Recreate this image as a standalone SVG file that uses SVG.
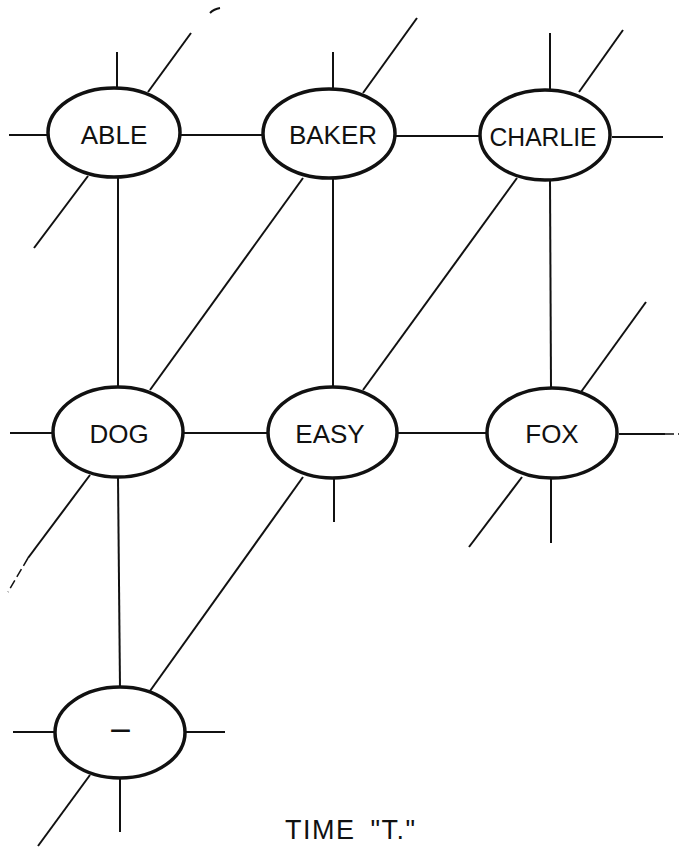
<svg xmlns="http://www.w3.org/2000/svg" width="679" height="847" viewBox="0 0 679 847">
<style>
.bg{fill:#ffffff}
.node ellipse{fill:#ffffff;stroke:#111;stroke-width:3.5}
.node text{font-family:"Liberation Sans",Arial,sans-serif;font-size:26px;fill:#111;text-anchor:middle}
#connectors line{stroke:#111;stroke-width:2;stroke-linecap:butt}
#connectors .faint{stroke-dasharray:9 4;stroke-width:1.5}
.title{font-family:"Liberation Sans",Arial,sans-serif;font-size:27px;fill:#111}
</style>
<rect class="bg" x="0" y="0" width="679" height="847"/>
<g id="connectors">
<!-- ABLE -->
<line x1="117" y1="52" x2="117" y2="88"/>
<line x1="9" y1="135" x2="48" y2="135"/>
<line x1="148" y1="92" x2="191" y2="33"/>
<line x1="88" y1="176" x2="34" y2="248"/>
<line x1="118" y1="177" x2="118" y2="387"/>
<line x1="180" y1="135" x2="263" y2="135"/>
<!-- BAKER -->
<line x1="333" y1="52" x2="333" y2="89"/>
<line x1="363" y1="93" x2="417" y2="18"/>
<line x1="303" y1="178" x2="150" y2="390"/>
<line x1="333" y1="178" x2="333" y2="387"/>
<line x1="395" y1="136" x2="480" y2="136"/>
<!-- CHARLIE -->
<line x1="550" y1="33" x2="550" y2="90"/>
<line x1="579" y1="92" x2="623" y2="30"/>
<line x1="612" y1="137" x2="663" y2="137"/>
<line x1="517" y1="178" x2="363" y2="390"/>
<line x1="550" y1="180" x2="551" y2="388"/>
<!-- DOG -->
<line x1="10" y1="433" x2="53" y2="433"/>
<line x1="183" y1="433" x2="268" y2="433"/>
<line x1="90" y1="475" x2="28" y2="558"/>
<line class="faint" x1="28" y1="558" x2="8" y2="592"/>
<line x1="118" y1="477" x2="120" y2="688"/>
<!-- EASY -->
<line x1="334" y1="477" x2="334" y2="522"/>
<line x1="397" y1="433" x2="487" y2="433"/>
<line x1="303" y1="477" x2="150" y2="691"/>
<!-- FOX -->
<line x1="581" y1="392" x2="646" y2="302"/>
<line x1="619" y1="434" x2="665" y2="434"/>
<line class="faint" x1="665" y1="434" x2="679" y2="434"/>
<line x1="522" y1="477" x2="469" y2="547"/>
<line x1="551" y1="478" x2="551" y2="543"/>
<!-- bottom node -->
<line x1="13" y1="732" x2="54" y2="732"/>
<line x1="186" y1="732" x2="225" y2="732"/>
<line x1="120" y1="778" x2="120" y2="832"/>
<line x1="90" y1="775" x2="38" y2="846"/>
</g>
<path d="M210 13 Q214 9 220 8" fill="none" stroke="#111" stroke-width="2"/>
<g id="node-able" class="node">
<ellipse cx="114" cy="132.5" rx="66" ry="44.5"/>
<text x="114" y="144">ABLE</text>
</g>
<g id="node-baker" class="node">
<ellipse cx="329" cy="133.5" rx="66" ry="44.5"/>
<text x="333" y="144">BAKER</text>
</g>
<g id="node-charlie" class="node">
<ellipse cx="545" cy="135" rx="65" ry="45"/>
<text x="543" y="146" textLength="107" lengthAdjust="spacingAndGlyphs">CHARLIE</text>
</g>
<g id="node-dog" class="node">
<ellipse cx="118" cy="432" rx="65" ry="45"/>
<text x="119" y="443">DOG</text>
</g>
<g id="node-easy" class="node">
<ellipse cx="332.5" cy="432.5" rx="64.5" ry="45.5"/>
<text x="330" y="443">EASY</text>
</g>
<g id="node-fox" class="node">
<ellipse cx="552" cy="433" rx="65" ry="45"/>
<text x="552" y="443">FOX</text>
</g>
<g id="node-blank" class="node">
<ellipse cx="120" cy="732.5" rx="65" ry="45.5"/>
<text x="120.5" y="738" font-size="34" font-weight="bold" textLength="21" lengthAdjust="spacingAndGlyphs">–</text>
</g>
<text class="title" x="285" y="839" letter-spacing="1.5" word-spacing="6">TIME "T."</text>
</svg>
